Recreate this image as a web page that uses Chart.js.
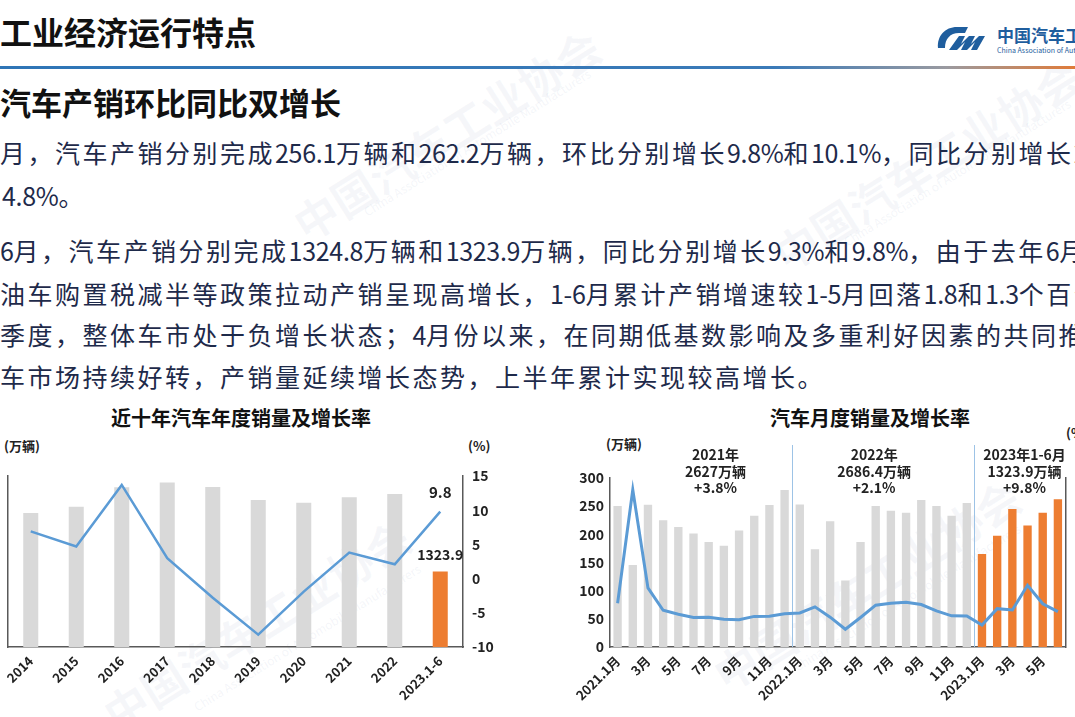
<!DOCTYPE html>
<html><head><meta charset="utf-8">
<script src="https://cdn.jsdelivr.net/npm/chart.js@4"></script>
<style>
body{margin:0;width:1075px;height:717px;overflow:hidden;background:#fff;font-family:"Noto Sans CJK SC",sans-serif;position:relative}
.abs{position:absolute;white-space:nowrap}
.h1{left:0;top:8px;font-size:32px;font-weight:bold;color:#111;line-height:46px}
.rule{left:0;top:66px;width:1075px;height:3px;background:linear-gradient(to right,#2e75b6 0%,#3a7ab8 72%,#9a9aa0 88%,#e07b39 100%)}
.h2{left:0;top:80px;font-size:31px;font-weight:bold;color:#111;line-height:44px}
.p{left:0;font-size:25px;letter-spacing:2.5px;color:#1e2a4a;line-height:34px}
.p span{letter-spacing:-0.3px}
.ct{font-size:20px;font-weight:bold;color:#111;line-height:28px;transform:translateX(-50%)}
.unit{font-size:13px;font-weight:bold;color:#222;line-height:18px}
.wm{color:rgba(150,165,195,0.09);font-size:44px;font-weight:bold;transform:rotate(-32deg);transform-origin:left top}
.wme{color:rgba(150,165,195,0.11);font-size:12px;transform:rotate(-32deg);transform-origin:left top}
canvas{position:absolute}
</style></head>
<body>
<div class="abs wm" style="left:280px;top:200px">中国汽车工业协会</div>
<div class="abs wme" style="left:360px;top:205px">China Association of Automobile Manufacturers</div>
<div class="abs wm" style="left:760px;top:230px">中国汽车工业协会</div>
<div class="abs wme" style="left:840px;top:235px">China Association of Automobile Manufacturers</div>
<div class="abs wm" style="left:90px;top:690px">中国汽车工业协会</div>
<div class="abs wme" style="left:190px;top:700px">China Association of Automobile Manufacturers</div>
<div class="abs wm" style="left:700px;top:650px">中国汽车工业协会</div>
<div class="abs wme" style="left:790px;top:660px">China Association of Automobile Manufacturers</div>

<div class="abs h1">工业经济运行特点</div>
<div class="abs" style="left:935px;top:22px;width:140px;height:34px">
  <svg width="60" height="30" viewBox="0 0 60 30" style="position:absolute;left:0;top:2px">
    <path d="M22 3 C10 3 2 12 3 24 L10 24 C10 15 15 9 24 9 L30 9 L33 3 Z" fill="#1f5e9e"/>
    <path d="M14 26 L24 12 L30 12 L26 20 L34 12 L40 12 L36 20 L44 12 L50 12 L42 26 L36 26 L40 18 L32 26 L26 26 L30 18 L22 26 Z" fill="#1f5e9e"/>
  </svg>
  <div class="abs" style="left:62px;top:2px;font-size:17px;font-weight:bold;color:#1f5e9e;line-height:22px">中国汽车工业协会</div>
  <div class="abs" style="left:62px;top:24px;font-size:7px;color:#1f5e9e;line-height:9px">China Association of Automobile Manufacturers</div>
</div>
<div class="abs rule"></div>
<div class="abs h2">汽车产销环比同比双增长</div>

<div class="abs p" style="top:135px">月，汽车产销分别完成<span>256.1</span>万辆和<span>262.2</span>万辆，环比分别增长<span>9.8%</span>和<span>10.1%</span>，同比分别增长<span>2.5%</span>和</div>
<div class="abs p" style="top:178px;left:2px"><span>4.8%</span>。</div>
<div class="abs p" style="top:233px"><span>6</span>月，汽车产销分别完成<span>1324.8</span>万辆和<span>1323.9</span>万辆，同比分别增长<span>9.3%</span>和<span>9.8%</span>，由于去年<span>6</span>月份开始</div>
<div class="abs p" style="top:276px">油车购置税减半等政策拉动产销呈现高增长，<span>1-6</span>月累计产销增速较<span>1-5</span>月回落<span>1.8</span>和<span>1.3</span>个百分点</div>
<div class="abs p" style="top:317px">季度，整体车市处于负增长状态；<span>4</span>月份以来，在同期低基数影响及多重利好因素的共同推动下</div>
<div class="abs p" style="top:359px">车市场持续好转，产销量延续增长态势，上半年累计实现较高增长。</div>

<div class="abs ct" style="left:241px;top:404px">近十年汽车年度销量及增长率</div>
<div class="abs unit" style="left:4px;top:437px">(万辆)</div>
<div class="abs unit" style="left:468px;top:437px">(%)</div>
<div class="abs ct" style="left:870px;top:404px">汽车月度销量及增长率</div>
<div class="abs unit" style="left:606px;top:435px">(万辆)</div>
<div class="abs unit" style="left:1066px;top:424px">(%)</div>

<canvas id="c1" width="510" height="317" style="left:0;top:400px;width:510px;height:317px"></canvas>
<canvas id="c2" width="515" height="317" style="left:560px;top:400px;width:515px;height:317px"></canvas>

<script>
// ---- Annual chart data ----
const years = ['2014','2015','2016','2017','2018','2019','2020','2021','2022','2023.1-6'];
const annualSales = [2349.2,2459.8,2802.8,2887.9,2808.1,2576.9,2531.1,2627.5,2686.4,1323.9];
const annualGrowth = [6.9,4.7,13.7,3.0,-2.8,-8.2,-1.9,3.8,2.1,9.8];

// ---- Monthly chart data ----
const months = ['2021.1月','2月','3月','4月','5月','6月','7月','8月','9月','10月','11月','12月',
                '2022.1月','2月','3月','4月','5月','6月','7月','8月','9月','10月','11月','12月',
                '2023.1月','2月','3月','4月','5月','6月'];
const monthlySales = [250.3,145.5,252.6,225.2,212.8,201.5,186.4,179.9,206.7,233.2,252.2,278.6,
                      253.1,173.7,223.4,118.1,186.2,250.2,242.0,238.3,261.0,250.5,232.9,255.6,
                      164.9,197.6,245.1,215.9,238.2,262.2];
const monthlyGrowth = [29.5,365.0,74.9,8.6,-3.1,-12.4,-11.9,-17.8,-19.6,-9.4,-9.1,-1.6,
                       0.9,18.7,-11.7,-47.6,-12.6,23.8,29.7,32.1,25.7,6.9,-7.9,-8.4,
                       -35.0,13.5,9.7,82.7,27.9,4.8];
const yearNotes = [
  {at: 6.45, lines: ['2021年','2627万辆','+3.8%']},
  {at: 16.9, lines: ['2022年','2686.4万辆','+2.1%']},
  {at: 26.8, lines: ['2023年1-6月','1323.9万辆','+9.8%']}
];
const yearBreaks = [11.5, 23.5];

const GRAY = '#d9d9d9', ORANGE = '#ed7d31', BLUE = '#5b9bd5', AXIS = '#595959';
const FONT = '"Noto Sans CJK SC", sans-serif';
Chart.defaults.font.family = FONT;
Chart.defaults.animation = false;

const annualLabels = {
  id: 'annualLabels',
  afterDatasetsDraw(chart) {
    const ctx = chart.ctx, n = years.length - 1;
    const x = chart.scales.x.getPixelForValue(n);
    const yl = chart.scales.y1.getPixelForValue(annualGrowth[n]);
    const yb = chart.scales.y.getPixelForValue(annualSales[n]);
    ctx.save();
    ctx.fillStyle = '#222';
    ctx.font = 'bold 15px ' + FONT;
    ctx.textAlign = 'center';
    ctx.textBaseline = 'middle';
    ctx.fillText(annualGrowth[n].toFixed(1), x, yl - 19);
    ctx.font = 'bold 14px ' + FONT;
    ctx.fillText(annualSales[n].toFixed(1), x, yb - 17);
    ctx.restore();
  }
};

new Chart(document.getElementById('c1'), {
  type: 'bar',
  data: {
    labels: years,
    datasets: [
      {type:'line', data: annualGrowth, yAxisID:'y1', borderColor: BLUE, borderWidth: 2.5, pointRadius: 0, tension: 0, order: 0},
      {type:'bar', data: annualSales, yAxisID:'y', backgroundColor: annualSales.map((v,i)=> i===annualSales.length-1 ? ORANGE : GRAY),
       barPercentage: 0.33, categoryPercentage: 1, order: 1}
    ]
  },
  options: {
    responsive: false,
    layout: {padding: {top: 76, left: 0, right: 0, bottom: 0}},
    plugins: {legend: {display: false}, tooltip: {enabled: false}},
    scales: {
      x: {grid: {display: false, drawTicks: false}, border: {color: AXIS, width: 1.5},
          ticks: {autoSkip: false, minRotation: 45, maxRotation: 45, padding: 6, color: '#222', font: {size: 13, weight: 'bold'}},
          afterFit: s => { s.height = 70; }},
      y: {position: 'left', min: 0, max: 3000, grid: {display: false, drawTicks: false}, border: {color: AXIS, width: 1.5},
          ticks: {display: false}, afterFit: s => { s.width = 8; }},
      y1: {position: 'right', min: -10, max: 15, grid: {display: false, drawTicks: false}, border: {color: AXIS, width: 1.5},
          ticks: {stepSize: 5, padding: 9, color: '#222', font: {size: 14, weight: 'bold'}}, afterFit: s => { s.width = 47; }}
    }
  },
  plugins: [annualLabels]
});

const monthlyDecor = {
  id: 'monthlyDecor',
  beforeDatasetsDraw(chart) {
    const ctx = chart.ctx, xs = chart.scales.x, bottom = chart.chartArea.bottom;
    ctx.save();
    ctx.strokeStyle = '#9dc3e6';
    ctx.lineWidth = 1;
    yearBreaks.forEach(b => {
      const x = Math.round(xs.getPixelForValue(b)) + 0.5;
      ctx.beginPath(); ctx.moveTo(x, 45); ctx.lineTo(x, bottom); ctx.stroke();
    });
    ctx.restore();
  },
  afterDatasetsDraw(chart) {
    const ctx = chart.ctx, xs = chart.scales.x;
    ctx.save();
    ctx.fillStyle = '#222';
    ctx.font = 'bold 14px ' + FONT;
    ctx.textAlign = 'center';
    ctx.textBaseline = 'middle';
    yearNotes.forEach(n => {
      const x = xs.getPixelForValue(n.at);
      n.lines.forEach((t, i) => ctx.fillText(t, x, 55 + i * 16.5));
    });
    ctx.restore();
  }
};

new Chart(document.getElementById('c2'), {
  type: 'bar',
  data: {
    labels: months,
    datasets: [
      {type:'line', data: monthlyGrowth, yAxisID:'y1', borderColor: BLUE, borderWidth: 3, pointRadius: 0, tension: 0, order: 0},
      {type:'bar', data: monthlySales, yAxisID:'y', backgroundColor: monthlySales.map((v,i)=> i>=24 ? ORANGE : GRAY),
       barPercentage: 0.55, categoryPercentage: 1, order: 1}
    ]
  },
  options: {
    responsive: false,
    layout: {padding: {top: 78, left: 0, right: 0, bottom: 0}},
    plugins: {legend: {display: false}, tooltip: {enabled: false}},
    scales: {
      x: {grid: {display: false, drawTicks: false}, border: {color: AXIS, width: 1.5},
          ticks: {autoSkip: false, minRotation: 45, maxRotation: 45, padding: 6, color: '#222', font: {size: 13, weight: 'bold'},
                  callback: (v, i) => i % 2 === 0 ? months[i] : ''},
          afterFit: s => { s.height = 70; }},
      y: {position: 'left', min: 0, max: 300, grid: {display: false, drawTicks: false}, border: {color: AXIS, width: 1.5},
          ticks: {stepSize: 50, padding: 6, color: '#222', font: {size: 14, weight: 'bold'}}, afterFit: s => { s.width = 50; }},
      y1: {position: 'right', min: -100, max: 400, grid: {display: false, drawTicks: false}, border: {color: AXIS, width: 1.5},
          ticks: {display: false}, afterFit: s => { s.width = 4; }}
    }
  },
  plugins: [monthlyDecor]
});
</script>
</body></html>
